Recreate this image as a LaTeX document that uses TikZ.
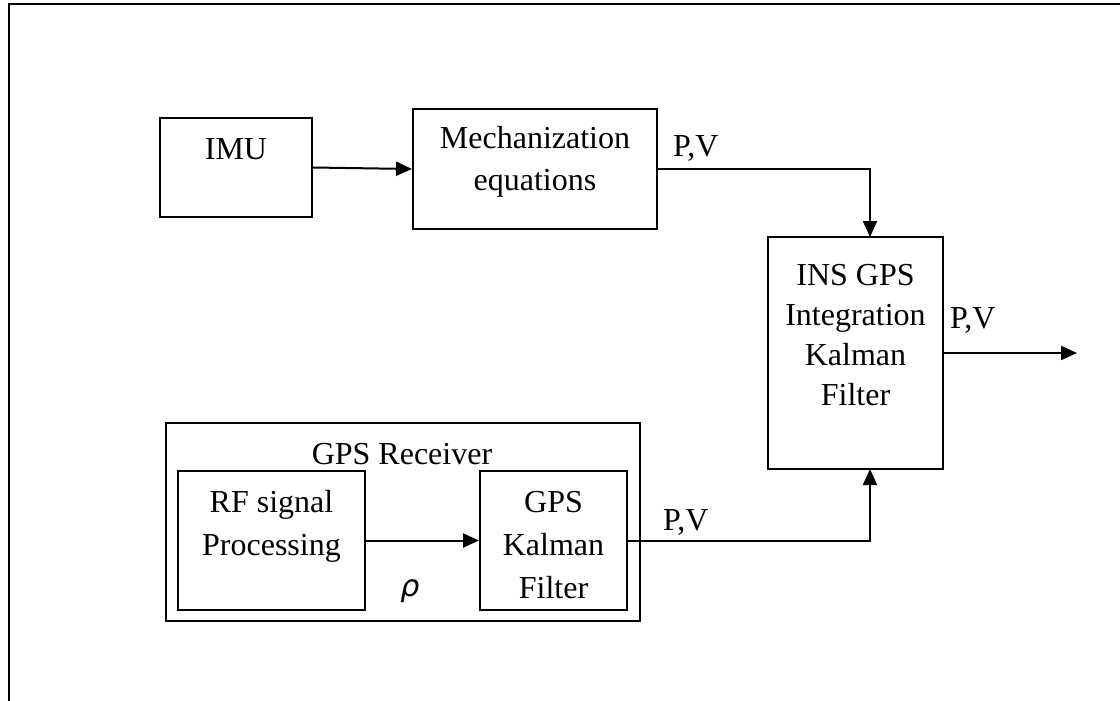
\documentclass[tikz,border=0pt]{standalone}
\usepackage{fontspec}
\setmainfont{Liberation Serif}
\newfontfamily\greekfont{DejaVu Sans}
\usetikzlibrary{arrows.meta}
\begin{document}
\begin{tikzpicture}[x=1pt,y=-1pt,
  blk/.style={draw,line width=2pt,inner sep=0pt,rectangle},
  txt/.style={inner sep=0pt,anchor=base,align=center,font=\fontsize{32pt}{40pt}\selectfont},
  lbl/.style={inner sep=0pt,anchor=base west,font=\fontsize{32pt}{40pt}\selectfont},
  flow/.style={line width=2pt,-{Triangle[length=16pt,width=14pt]}},
  wire/.style={line width=2pt}]
\useasboundingbox (0,0) rectangle (1120,701);

% page frame (top and left edges only)
\draw[line width=1.6pt] (9,701) -- (9,4) -- (1120,4);

% blocks
\node[blk,minimum width=152pt,minimum height=99pt] (imu) at (236,167.5) {};
\node[blk,minimum width=244pt,minimum height=120pt] (mech) at (535,169) {};
\node[blk,minimum width=175pt,minimum height=232pt] (ins) at (855.5,353) {};
\node[blk,minimum width=474pt,minimum height=198pt] (rx) at (403,522) {};
\node[blk,minimum width=187pt,minimum height=139pt] (rf) at (271.5,540.5) {};
\node[blk,minimum width=147pt,minimum height=139pt] (gkf) at (553.5,540.5) {};

% block texts (base anchor = baseline of the last line)
\node[txt] (imut) at (236,159) {IMU};
\node[txt,font=\fontsize{32pt}{42pt}\selectfont] (mecht) at (535,190) {Mechanization\\equations};
\node[txt] (inst) at (855.5,405) {INS GPS\\Integration\\Kalman\\Filter};
\node[txt] (rxt) at (402,464) {GPS Receiver};
\node[txt,font=\fontsize{32pt}{43pt}\selectfont] (rft) at (271.5,555) {RF signal\\Processing};
\node[txt,font=\fontsize{32pt}{43pt}\selectfont] (gkft) at (553.5,598) {GPS\\Kalman\\Filter};

% signal labels
\node[lbl] (pv1) at (673,157) {P,V};
\node[lbl] (pv2) at (950,328) {P,V};
\node[lbl] (pv3) at (663,530) {P,V};
\node[txt,font=\fontsize{30pt}{30pt}\greekfont\itshape] (rho) at (410,596) {ρ};

% connection points on the integration filter
\coordinate (insin) at (870,237);
\coordinate (insin2) at (870,469);
\coordinate (out) at (1077,353);

% connectors
\draw[flow] (imu.east) -- (mech.west);
\draw[flow] (mech.east) -| (insin);
\draw[flow] (rf.east) -- (gkf.west);
\draw[flow] (gkf.east) -| (insin2);
\draw[flow] (ins.east) -- (out);
\end{tikzpicture}
\end{document}
